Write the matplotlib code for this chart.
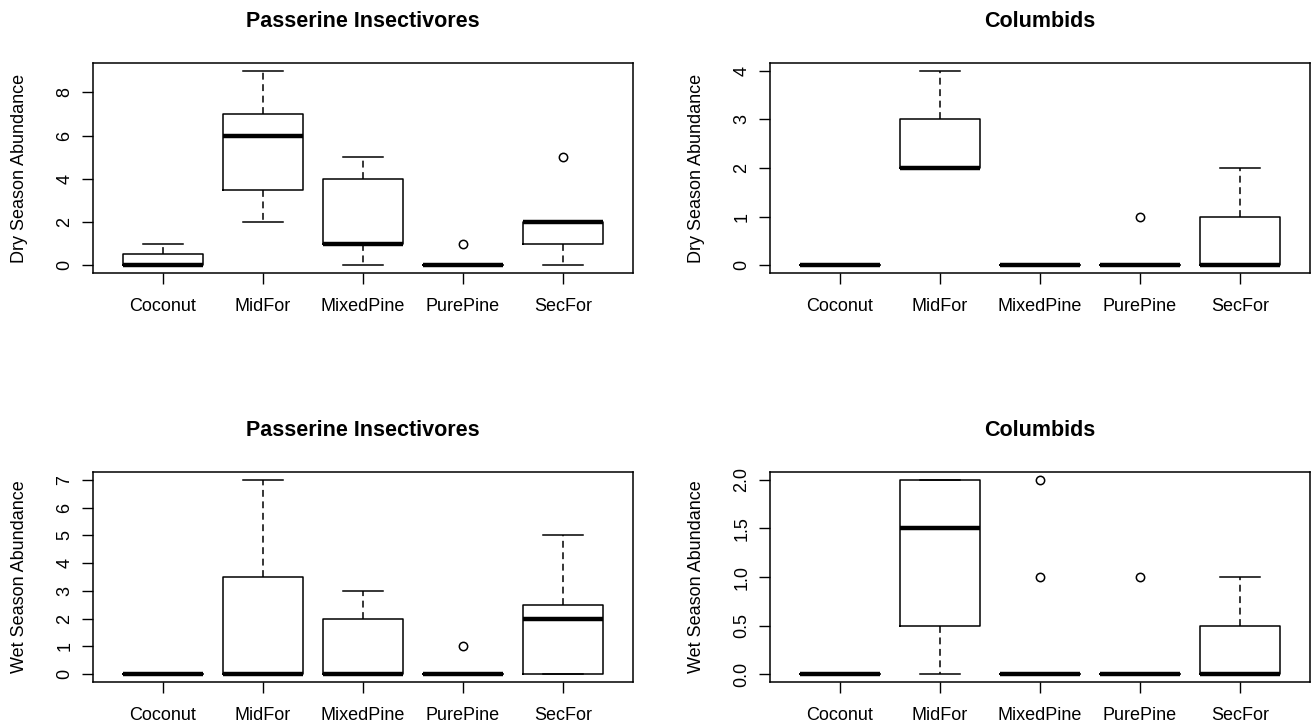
import matplotlib
matplotlib.use("Agg")
import matplotlib.pyplot as plt

plt.rcParams['font.family'] = ['Liberation Sans', 'DejaVu Sans']

habitats = ["Coconut", "MidFor", "MixedPine", "PurePine", "SecFor"]

# five-number summaries per habitat: lower whisker, Q1, median, Q3, upper whisker
dry_pass = [[0, 0, 0, 0.5, 1], [2, 3.5, 6, 7, 9], [0, 1, 1, 4, 5], [0, 0, 0, 0, 0], [0, 1, 2, 2, 2]]
dry_pass_out = [[], [], [], [1], [5]]
dry_col = [[0, 0, 0, 0, 0], [2, 2, 2, 3, 4], [0, 0, 0, 0, 0], [0, 0, 0, 0, 0], [0, 0, 0, 1, 2]]
dry_col_out = [[], [], [], [1], []]
wet_pass = [[0, 0, 0, 0, 0], [0, 0, 0, 3.5, 7], [0, 0, 0, 2, 3], [0, 0, 0, 0, 0], [0, 0, 2, 2.5, 5]]
wet_pass_out = [[], [], [], [1], []]
wet_col = [[0, 0, 0, 0, 0], [0, 0.5, 1.5, 2, 2], [0, 0, 0, 0, 0], [0, 0, 0, 0, 0], [0, 0, 0, 0.5, 1]]
wet_col_out = [[], [], [1, 2], [1], []]

panels = [
    ("Passerine Insectivores", "Dry Season Abundance", dry_pass, dry_pass_out, [0, 2, 4, 6, 8], "%d"),
    ("Columbids", "Dry Season Abundance", dry_col, dry_col_out, [0, 1, 2, 3, 4], "%d"),
    ("Passerine Insectivores", "Wet Season Abundance", wet_pass, wet_pass_out, [0, 1, 2, 3, 4, 5, 6, 7], "%d"),
    ("Columbids", "Wet Season Abundance", wet_col, wet_col_out, [0, 0.5, 1.0, 1.5, 2.0], "%.1f"),
]

W, H = 1311, 724
fig = plt.figure(figsize=(W / 100, H / 100), dpi=100)
rects = [(93, 63), (770, 63), (93, 472), (770, 472)]

for (title, ylab, stats, outs, yt, fmt), (px, py) in zip(panels, rects):
    ax = fig.add_axes([px / W, 1 - (py + 210) / H, 540 / W, 210 / H])
    bstats = []
    for s, o in zip(stats, outs):
        bstats.append(dict(whislo=s[0], q1=s[1], med=s[2], q3=s[3], whishi=s[4], fliers=o))
    ax.bxp(bstats, positions=range(1, 6), widths=0.8, showfliers=True,
           boxprops=dict(color="black", lw=1.1),
           medianprops=dict(color="black", lw=3.2, solid_capstyle="butt"),
           whiskerprops=dict(color="black", lw=1.1, linestyle=(0, (4.5, 3))),
           capprops=dict(color="black", lw=1.1),
           flierprops=dict(marker="o", markerfacecolor="none", markeredgecolor="black",
                           markersize=6, markeredgewidth=1.1),
           capwidths=0.4)
    lo, hi = min(yt), max(max(s[4] for s in stats), max(yt))
    pad = (hi - lo) * 0.04
    ax.set_ylim(lo - pad, hi + pad)
    ax.set_xlim(0.3, 5.7)
    ax.set_xticks(range(1, 6))
    ax.set_xticklabels(habitats, fontsize=13)
    ax.set_yticks(yt)
    ax.set_yticklabels([fmt % v for v in yt], fontsize=13, rotation=90, va="center")
    ax.tick_params(axis="x", length=8.2, width=1.0, pad=10)
    ax.tick_params(axis="y", length=8.2, width=1.0, pad=6)
    for sp in ax.spines.values():
        sp.set_linewidth(1.1)
    ax.set_title(title, fontsize=15.5, fontweight="bold", pad=26)
    ax.set_ylabel(ylab, fontsize=13)
    ax.yaxis.set_label_coords(-0.12, 0.5)

fig.savefig("out.png", dpi=100)
